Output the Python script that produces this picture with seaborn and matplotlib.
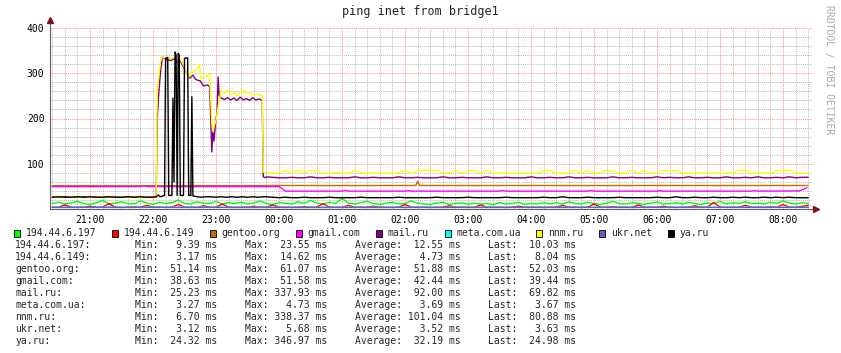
import numpy as np
import matplotlib
matplotlib.use("Agg")
import matplotlib.pyplot as plt
from matplotlib.ticker import MultipleLocator, FuncFormatter
from matplotlib.patches import Rectangle
import seaborn as sns

# ---------------------------------------------------------------- data
hosts = ["194.44.6.197", "194.44.6.149", "gentoo.org", "gmail.com", "mail.ru",
         "meta.com.ua", "nnm.ru", "ukr.net", "ya.ru"]
colors = ["#00FF00", "#FF0000", "#CC6600", "#FF00FF", "#800080",
          "#00FFFF", "#FFFF00", "#6A5ACD", "#000000"]
min_ms = [9.39, 3.17, 51.14, 38.63, 25.23, 3.27, 6.70, 3.12, 24.32]
max_ms = [23.55, 14.62, 61.07, 51.58, 337.93, 4.73, 338.37, 5.68, 346.97]
avg_ms = [12.55, 4.73, 51.88, 42.44, 92.00, 3.69, 101.04, 3.52, 32.19]
last_ms = [10.03, 8.04, 52.03, 39.44, 69.82, 3.67, 80.88, 3.63, 24.98]

# hours of day (after midnight continue as 24, 25, ...)
grid_start = 20.4      # full 12h grid, 6 min steps
early_start = 20.4     # 20:24 .. 21:54
late_start = 23.8      # 23:48 .. 08:24

green = [12, 15, 11, 13, 17, 12, 10, 14, 19, 11,
         13, 16, 12, 11, 18, 13, 10, 15, 12, 14,
         20, 12, 11, 16, 13, 12, 17, 11, 14, 12,
         15, 11, 13, 18, 12, 10, 14, 13, 11, 16,
         12, 19, 13, 11, 15, 12, 23.5, 13, 11, 14,
         17, 12, 10, 13, 15, 11, 12, 18, 13, 11,
         10, 13, 15, 10, 12, 14, 10, 13, 11, 12,
         10, 14, 11, 12, 15, 10, 12, 11, 14, 11,
         14, 11, 16, 12, 11, 15, 12, 10, 13, 17,
         12, 11, 14, 12, 10, 13, 16, 11, 12, 14,
         11, 15, 12, 10, 13, 12, 17, 11, 14, 12,
         16, 12, 13, 11, 15, 12, 18, 13, 11, 14,
         12]
red = [4, 4, 9, 4, 3.5, 4, 6, 4, 4, 12,
       4, 3.5, 4, 5, 4, 8, 4, 4, 3.5, 4,
       10, 4, 4, 3.5, 7, 4, 4, 11, 4, 3.5,
       4, 4, 6, 4, 4, 9, 4, 4, 3.5, 4,
       5, 4, 4, 12, 4, 4, 3.5, 8, 4, 4,
       4, 6, 4, 4, 3.5, 4, 10, 4, 4, 4,
       3.5, 4, 4, 7, 4, 4, 4, 3.5, 9, 4,
       4, 4, 3.5, 4, 6, 4, 4, 4, 3.5, 4,
       4, 8, 4, 4, 3.5, 4, 11, 4, 4, 5,
       4, 4, 3.5, 9, 4, 4, 4, 6, 4, 3.5,
       4, 4, 7, 4, 4, 14.6, 4, 3.5, 4, 4,
       8, 4, 4, 3.5, 5, 4, 10, 4, 4, 6,
       8]

gentoo_t = [20.4, 21.5, 22.5, 23.5, 24.0, 25.0, 26.17, 26.2, 26.23, 27.0, 28.0, 29.0, 30.0, 31.0, 32.4]
gentoo_v = [51.5, 51.3, 51.6, 51.4, 52.0, 51.8, 52.0, 61.0, 52.0, 51.9, 52.0, 51.8, 52.0, 51.9, 52.0]

gmail_t = [20.4, 21.8, 21.85, 21.9, 24.0, 24.05, 24.1, 25.0, 25.05, 25.1, 26.0, 26.05, 26.1,
           27.5, 27.55, 27.6, 28.9, 28.95, 29.0, 30.0, 30.05, 30.1, 31.5, 31.55, 31.6,
           32.25, 32.32, 32.38]
gmail_v = [49.5, 49.5, 51.5, 49.5, 49.5, 45, 39.5, 39.5, 41, 39.5, 39.5, 40.5, 39.5,
           39.5, 41, 39.5, 39.5, 41, 39.5, 39.5, 40.5, 39.5, 39.5, 40.5, 39.5,
           40, 43, 47]

meta_t = [20.4, 22.0, 24.0, 26.0, 28.0, 30.0, 32.4]
meta_v = [3.7, 3.8, 3.6, 3.7, 3.6, 3.7, 3.7]
ukr_v = [3.5, 3.6, 3.4, 3.5, 3.5, 3.6, 3.6]

# busy period 22:00 .. 23:47, minutes after 22:00
nnm_early = [25, 27, 25, 26, 27, 25, 26, 25, 27, 26, 25, 27, 25, 26, 25, 26]
nnm_busy_min = [0, 3, 4, 7, 9, 13, 17, 20, 23, 26, 29, 32, 35, 38, 42, 44, 46, 50, 54, 56,
                57, 60, 63, 65, 68, 71, 74, 77, 80, 83, 86, 89, 92, 95, 98, 101, 104, 105, 107]
nnm_busy = [25, 26, 262, 325, 336, 334, 332, 335, 329, 331, 318, 299, 292, 303, 310, 320, 288, 292, 299, 190,
            174, 196, 240, 262, 255, 262, 252, 258, 250, 256, 263, 254, 257, 250, 255, 252, 252, 82, 80]
nnm_late = [80, 79, 80, 85, 79, 86, 80, 85, 84, 79,
            79, 80, 79, 79, 85, 80, 79, 79, 79, 79,
            79, 80, 85, 79, 84, 86, 86, 85, 79, 80,
            85, 79, 84, 85, 79, 85, 79, 79, 79, 79,
            79, 80, 79, 79, 84, 85, 79, 79, 80, 85,
            79, 85, 79, 80, 85, 84, 79, 80, 85, 79,
            85, 79, 80, 85, 84, 85, 80, 79, 79, 79,
            79, 79, 79, 79, 79, 86, 86, 79, 79, 79,
            79, 85, 84, 86, 80, 79, 80]

mail_early = [26, 26, 27, 26, 26, 27, 26, 26, 26, 27, 26, 26, 27, 26, 26, 26]
mail_busy_min = [0, 3, 4, 5, 7, 9, 13, 17, 20, 23, 26, 29, 32, 35, 38, 40, 42, 45, 48, 52, 54,
                 56, 57, 58, 60, 61, 62, 63, 65, 68, 71, 74, 77, 80, 83, 86, 89, 92, 95, 98,
                 101, 104, 105, 107]
mail_busy = [26, 26, 196, 240, 300, 336, 330, 328, 332, 325, 327, 314, 300, 289, 296, 288, 285, 283, 272, 274, 270,
             126, 170, 150, 200, 213, 292, 251, 245, 242, 246, 241, 245, 240, 247, 241, 244, 240, 246, 241,
             243, 240, 71, 69]
mail_late = [71, 70, 69, 69, 70, 69, 69, 71, 69, 69,
             70, 69, 69, 69, 71, 69, 69, 70, 69, 69,
             69, 71, 69, 69, 70, 69, 69, 69, 71, 69,
             69, 70, 69, 69, 69, 71, 69, 69, 70, 69,
             69, 69, 71, 69, 69, 70, 69, 69, 71, 69,
             69, 70, 69, 69, 69, 71, 69, 69, 70, 69,
             69, 69, 71, 69, 70, 69, 69, 71, 69, 69,
             70, 69, 69, 71, 69, 69, 70, 69, 71, 69,
             69, 70, 69, 71, 69, 70, 70]

ya_early = [26, 27, 26, 26, 27, 26, 27, 26, 26, 27, 26, 26, 27, 26, 27, 26]
ya_busy_min = [0, 3, 5, 7, 11, 12, 14, 15, 18, 19, 20, 21, 22, 23, 24, 25, 26,
               29, 30, 33, 34, 36, 37, 38, 42, 46, 50, 55, 60, 65, 70, 75, 80, 85, 90, 95, 100, 105]
ya_busy = [26, 27, 31, 27, 30, 333, 335, 30, 30, 245, 60, 347, 340, 30, 344, 340, 30,
           30, 333, 334, 30, 30, 248, 29, 27, 26, 27, 27, 26, 27, 26, 27, 26, 27, 26, 27, 26, 27]
ya_late = [27, 26, 25, 26, 25, 25, 26, 25, 25, 25,
           26, 25, 25, 25, 25, 26, 25, 25, 25, 25,
           25, 26, 25, 25, 25, 25, 25, 26, 25, 25,
           25, 25, 26, 25, 25, 25, 25, 25, 26, 25,
           25, 25, 25, 25, 26, 25, 25, 27, 25, 25,
           25, 26, 25, 25, 25, 25, 26, 25, 25, 25,
           25, 25, 26, 25, 25, 27, 25, 25, 26, 25,
           25, 26, 25, 25, 26, 25, 26, 25, 25, 26,
           25, 26, 25, 26, 25, 25, 25]


def grid_times(start, n):
    return start + 0.1 * np.arange(n)


def joined(early, busy_min, busy, late):
    t = np.concatenate([grid_times(early_start, len(early)),
                        22 + np.array(busy_min) / 60.0,
                        grid_times(late_start, len(late))])
    v = np.concatenate([early, busy, late])
    return t, v


series = [
    (grid_times(grid_start, len(green)), green),
    (grid_times(grid_start, len(red)), red),
    (gentoo_t, gentoo_v),
    (gmail_t, gmail_v),
    joined(mail_early, mail_busy_min, mail_busy, mail_late),
    (meta_t, meta_v),
    joined(nnm_early, nnm_busy_min, nnm_busy, nnm_late),
    (meta_t, ukr_v),
    joined(ya_early, ya_busy_min, ya_busy, ya_late),
]

# ---------------------------------------------------------------- figure
sns.set_style("white")
plt.rcParams['font.family'] = ['DejaVu Sans Mono', 'DejaVu Sans']

W, H = 841, 353
fig = plt.figure(figsize=(W / 100, H / 100), dpi=100, facecolor="white")
ax = fig.add_axes([50 / W, 1 - 209 / H, 762 / W, 181 / H])


def fx(x):
    return x / W


def fy(y):
    return 1 - y / H


for (t, v), c in zip(series, colors):
    sns.lineplot(x=t, y=v, color=c, linewidth=1.0, ax=ax, estimator=None,
                 sort=False, legend=False)

ax.set_xlim(20.365, 32.46)
ax.set_ylim(0, 400)
ax.xaxis.set_major_locator(MultipleLocator(1))
ax.xaxis.set_minor_locator(MultipleLocator(0.2))
ax.yaxis.set_major_locator(MultipleLocator(100))
ax.yaxis.set_minor_locator(MultipleLocator(20))
ax.xaxis.set_major_formatter(FuncFormatter(lambda h, _: f"{int(round(h)) % 24:02d}:00"))
ax.yaxis.set_major_formatter(FuncFormatter(lambda v, _: "" if v == 0 else f"{v:.0f}"))
ax.set_axisbelow(True)
ax.grid(which="minor", color="#BBBBBB", linewidth=0.7, linestyle=(0, (1, 1)))
ax.grid(which="major", color="#FF9090", linewidth=0.7, linestyle=(0, (1, 1)))
ax.tick_params(which="both", labelsize=7, colors="#606060", labelcolor="black",
               direction="inout", pad=2)
ax.tick_params(which="major", length=4, width=0.7)
ax.tick_params(which="minor", length=2, width=0.7)
ax.set_xlabel("")
ax.set_ylabel("")
for s in ax.spines.values():
    s.set_visible(False)

# axis lines with arrows
ax.plot([0, 1.005], [0, 0], transform=ax.transAxes, color="#606060", lw=0.8, clip_on=False)
ax.plot([0, 0], [0, 1.04], transform=ax.transAxes, color="#606060", lw=0.8, clip_on=False)
ax.plot([1.005], [0], transform=ax.transAxes, marker=">", color="#7F1010", ms=4, clip_on=False)
ax.plot([0], [1.045], transform=ax.transAxes, marker="^", color="#7F1010", ms=4, clip_on=False)

fig.text(fx(420), fy(12), "ping inet from bridge1", ha="center", va="center", fontsize=8.5)
fig.text(fx(829), fy(5), "RRDTOOL / TOBI OETIKER", ha="center", va="top", rotation=270,
         fontsize=7, color="#AAAAAA")

# legend row
x = 14
for name, c in zip(hosts, colors):
    fig.add_artist(Rectangle((fx(x), fy(236.5)), 6 / W, 6.5 / H, transform=fig.transFigure,
                             facecolor=c, edgecolor="black", linewidth=0.6))
    fig.text(fx(x + 12), fy(233), name, ha="left", va="center", fontsize=7)
    x += 12 + len(name) * 5.85 + 15.6

# statistics table
for i, name in enumerate(hosts):
    y = fy(245 + 12 * i)
    fig.text(fx(15), y, name + ":", ha="left", va="center", fontsize=7)
    fig.text(fx(135), y, f"Min:{min_ms[i]:7.2f} ms", ha="left", va="center", fontsize=7)
    fig.text(fx(245), y, f"Max:{max_ms[i]:7.2f} ms", ha="left", va="center", fontsize=7)
    fig.text(fx(355), y, f"Average:{avg_ms[i]:7.2f} ms", ha="left", va="center", fontsize=7)
    fig.text(fx(488), y, f"Last:{last_ms[i]:7.2f} ms", ha="left", va="center", fontsize=7)

fig.savefig("out.png", dpi=100, facecolor="white")
